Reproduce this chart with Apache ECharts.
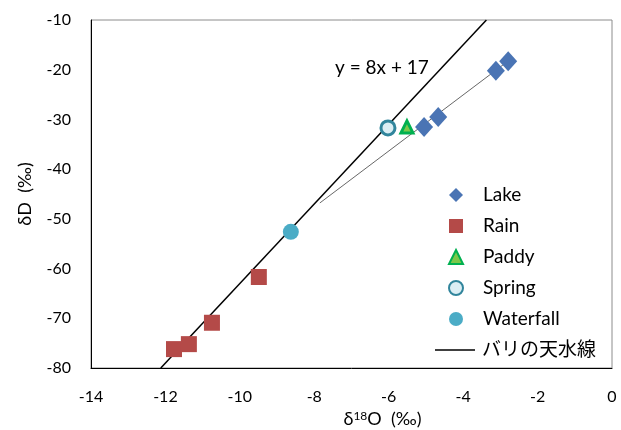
<!DOCTYPE html>
<html>
<head>
<meta charset="utf-8">
<script src="https://cdn.jsdelivr.net/npm/echarts@6/dist/echarts.min.js"></script>
<style>
html,body{margin:0;padding:0;background:#fff;}
#c{width:621px;height:430px;}
</style>
</head>
<body>
<div id="c"></div>
<script>
// Data (δ18O, δD in ‰)
var lakeX = [-2.79, -3.12, -4.67, -5.05];
var lakeY = [-18.3, -20.2, -29.5, -31.5];
var rainX = [-11.77, -11.37, -10.75, -9.49];
var rainY = [-76.2, -75.2, -70.9, -61.7];
var paddyX = [-5.51];
var paddyY = [-31.5];
var springX = [-6.02];
var springY = [-31.7];
var waterfallX = [-8.63];
var waterfallY = [-52.6];
// Bali meteoric water line y = 8x + 17, endpoints across the plot
var gmwlX = [-12.125, -3.375];
var gmwlY = [-80, -10];
// Lake trend line endpoints
var trendX = [-7.85, -2.8];
var trendY = [-46.8, -18.3];
var xTicks = [-14, -12, -10, -8, -6, -4, -2, 0];
var yTicks = [-80, -70, -60, -50, -40, -30, -20, -10];

function pairs(xs, ys){ return xs.map(function(x,i){ return [x, ys[i]]; }); }

var FONT = 'Lato, "Noto Sans", "Noto Sans CJK JP", sans-serif';
var JFONT = 'Lato, "Noto Sans CJK JP", sans-serif';
var chart = echarts.init(document.getElementById('c'));
chart.setOption({
  animation: false,
  textStyle: {fontFamily: FONT},
  grid: {left: 91, right: 9, top: 20, bottom: 62, show: true, borderColor: '#8c8c8c', borderWidth: 1,
         containLabel: false, outerBoundsMode: 'none'},
  xAxis: {
    type: 'value', min: xTicks[0], max: xTicks[xTicks.length-1], interval: 2,
    axisLine: {onZero: false, lineStyle: {color: '#000', width: 1}},
    axisTick: {show: false}, splitLine: {show: false},
    axisLabel: {color: '#000', fontSize: 16, margin: 21, fontFamily: FONT},
    name: '{a|δ}{s|18}{a|O  (‰)}', nameLocation: 'middle', nameGap: 40,
    nameTextStyle: {padding: [0, 0, 0, 62], rich: {
      a: {fontSize: 18, color: '#000', fontFamily: FONT},
      s: {fontSize: 12, color: '#000', verticalAlign: 'top', lineHeight: 12, padding: [0,0,8,0], fontFamily: FONT}
    }}
  },
  yAxis: {
    type: 'value', min: yTicks[0], max: yTicks[yTicks.length-1], interval: 10,
    axisLine: {onZero: false, lineStyle: {color: '#000', width: 1}},
    axisTick: {show: false}, splitLine: {show: false},
    axisLabel: {color: '#000', fontSize: 16, margin: 20, fontFamily: FONT},
    name: 'δD  (‰)', nameLocation: 'middle', nameGap: 57, nameRotate: 90,
    nameTextStyle: {color: '#000', fontSize: 18, fontFamily: FONT}
  },
  legend: [{
    orient: 'vertical', left: 448, top: 185, padding: 0, itemWidth: 14, itemHeight: 14, itemGap: 11,
    textStyle: {color: '#000', fontSize: 19, lineHeight: 20, fontFamily: FONT, padding: [0,0,0,15]},
    data: ['Lake', 'Rain', 'Paddy', 'Spring', 'Waterfall']
  }, {
    orient: 'vertical', left: 435, top: 340, padding: 0, itemWidth: 40, itemHeight: 1.5,
    icon: 'rect', itemStyle: {color: '#000'},
    textStyle: {color: '#000', fontSize: 19, lineHeight: 20, fontFamily: JFONT, padding: [0,0,0,2]},
    data: ['バリの天水線']
  }],
  graphic: [{
    type: 'text', left: 335, top: 58,
    style: {text: 'y = 8x + 17', fontSize: 19, fill: '#000', fontFamily: FONT}
  }],
  series: [
    {name: 'バリの天水線', type: 'line', data: pairs(gmwlX, gmwlY), symbol: 'none',
     lineStyle: {color: '#000', width: 1.5}, z: 3},
    {name: 'trend', type: 'line', data: pairs(trendX, trendY), symbol: 'none',
     lineStyle: {color: '#404040', width: 0.8}, z: 3},
    {name: 'Lake', type: 'scatter', data: pairs(lakeX, lakeY), symbol: 'diamond', symbolSize: [18, 20],
     itemStyle: {color: '#4a74b4', opacity: 1}, z: 4},
    {name: 'Rain', type: 'scatter', data: pairs(rainX, rainY), symbol: 'rect', symbolSize: 16,
     itemStyle: {color: '#b44a48', opacity: 1}, z: 4},
    {name: 'Paddy', type: 'scatter', data: pairs(paddyX, paddyY), symbol: 'triangle', symbolSize: 12,
     itemStyle: {color: '#7cc84a', borderColor: '#00b050', borderWidth: 3, opacity: 1}, z: 4},
    {name: 'Spring', type: 'scatter', data: pairs(springX, springY), symbol: 'circle', symbolSize: 14,
     itemStyle: {color: '#dbeef4', borderColor: '#31859c', borderWidth: 3, opacity: 1}, z: 4},
    {name: 'Waterfall', type: 'scatter', data: pairs(waterfallX, waterfallY), symbol: 'circle', symbolSize: 16,
     itemStyle: {color: '#4bacc6', opacity: 1}, z: 4}
  ]
});
</script>
</body>
</html>
